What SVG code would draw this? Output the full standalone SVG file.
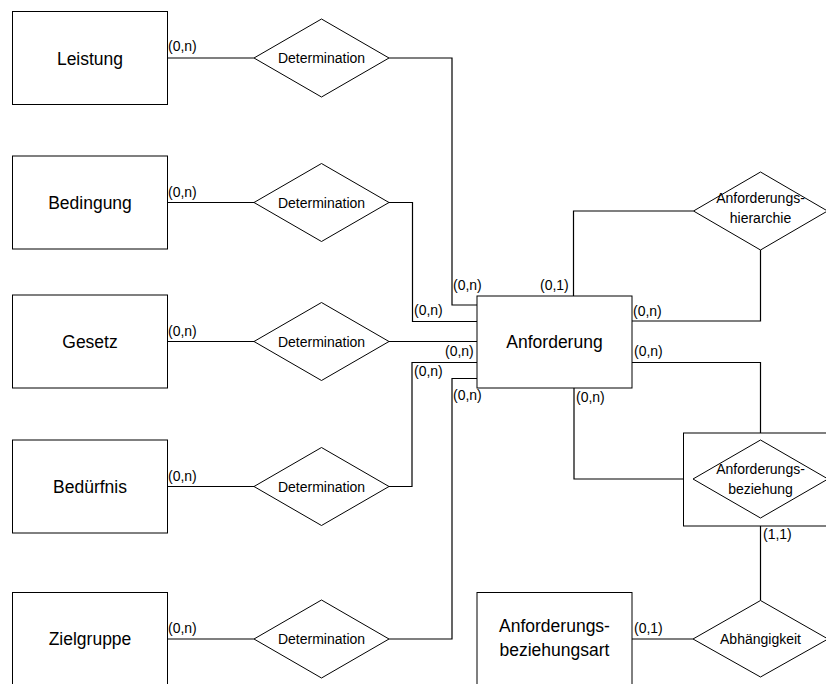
<svg xmlns="http://www.w3.org/2000/svg" width="826" height="684" viewBox="0 0 826 684">
<style>
.box{fill:#fff;stroke:#000;stroke-width:1}
.dia{fill:#fff;stroke:#000;stroke-width:1}
.ln{fill:none;stroke:#000;stroke-width:1.2}
.ent{font-family:"Liberation Sans",Arial,sans-serif;font-size:17.5px;fill:#000;text-anchor:middle}
.rel{font-family:"Liberation Sans",Arial,sans-serif;font-size:14px;fill:#000;text-anchor:middle}
.card{font-family:"Liberation Sans",Arial,sans-serif;font-size:14px;fill:#000}
</style>
<rect width="826" height="684" fill="#fff"/>
<g id="connectors">
<path class="ln" d="M167,58 H254 M389,58 H452 V305 H477"/>
<path class="ln" d="M167,202.5 H254 M389,202.5 H412.5 V321.5 H477"/>
<path class="ln" d="M167,341.5 H254 M389,341.5 H477"/>
<path class="ln" d="M167,486.5 H254 M389,486.5 H412 V362.5 H477"/>
<path class="ln" d="M167,639 H254 M389,639 H452 V378.5 H477"/>
<path class="ln" d="M573.5,296 V211 H693.5 M760.5,249.5 V321 H632"/>
<path class="ln" d="M632,362.5 H760.5 V440 M574,388 V479 H693"/>
<path class="ln" d="M760.5,526 V600.5"/>
<path class="ln" d="M632,639 H693"/>
<text class="card" x="168" y="51">(0,n)</text>
<text class="card" x="168" y="196.5">(0,n)</text>
<text class="card" x="168" y="335.5">(0,n)</text>
<text class="card" x="168" y="480.5">(0,n)</text>
<text class="card" x="168" y="633">(0,n)</text>
<text class="card" x="453" y="289.5">(0,n)</text>
<text class="card" x="414" y="315">(0,n)</text>
<text class="card" x="445" y="356">(0,n)</text>
<text class="card" x="414" y="376">(0,n)</text>
<text class="card" x="453" y="399.5">(0,n)</text>
<text class="card" x="540" y="289.5">(0,1)</text>
<text class="card" x="633" y="316">(0,n)</text>
<text class="card" x="634" y="356">(0,n)</text>
<text class="card" x="576" y="401.5">(0,n)</text>
<text class="card" x="763" y="538.5">(1,1)</text>
<text class="card" x="634" y="633">(0,1)</text>
</g>
<g id="leistung"><rect class="box" x="12.5" y="11.5" width="155" height="93"/><text class="ent" x="90" y="64.5">Leistung</text></g>
<g id="bedingung"><rect class="box" x="12.5" y="156" width="155" height="93"/><text class="ent" x="90" y="209">Bedingung</text></g>
<g id="gesetz"><rect class="box" x="12.5" y="295" width="155" height="93"/><text class="ent" x="90" y="348">Gesetz</text></g>
<g id="beduerfnis"><rect class="box" x="12.5" y="440" width="155" height="93"/><text class="ent" x="90" y="493">Bedürfnis</text></g>
<g id="zielgruppe"><rect class="box" x="12.5" y="592.5" width="155" height="93"/><text class="ent" x="90" y="645">Zielgruppe</text></g>
<g id="det1"><polygon class="dia" points="254,58 321.5,19 389,58 321.5,97"/><text class="rel" x="321.5" y="63">Determination</text></g>
<g id="det2"><polygon class="dia" points="254,202.5 321.5,163.5 389,202.5 321.5,241.5"/><text class="rel" x="321.5" y="207.5">Determination</text></g>
<g id="det3"><polygon class="dia" points="254,341.5 321.5,302.5 389,341.5 321.5,380.5"/><text class="rel" x="321.5" y="346.5">Determination</text></g>
<g id="det4"><polygon class="dia" points="254,486.5 321.5,447.5 389,486.5 321.5,525.5"/><text class="rel" x="321.5" y="491.5">Determination</text></g>
<g id="det5"><polygon class="dia" points="254,639 321.5,600 389,639 321.5,678"/><text class="rel" x="321.5" y="644">Determination</text></g>
<g id="anforderung"><rect class="box" x="477" y="296" width="155" height="92"/><text class="ent" x="554.5" y="348">Anforderung</text></g>
<g id="hierarchie"><polygon class="dia" points="693.5,211 760.5,172 827.5,211 760.5,250"/><text class="rel" x="760.5" y="203">Anforderungs-</text><text class="rel" x="760.5" y="223">hierarchie</text></g>
<g id="beziehung"><rect class="box" x="683.5" y="433" width="150" height="93"/><polygon class="dia" points="693,479 760.5,440 828,479 760.5,518"/><text class="rel" x="760.5" y="474">Anforderungs-</text><text class="rel" x="760.5" y="494">beziehung</text></g>
<g id="abhaengigkeit"><polygon class="dia" points="693,639 760.5,600.5 828,639 760.5,677"/><text class="rel" x="760.5" y="643.5">Abhängigkeit</text></g>
<g id="beziehungsart"><rect class="box" x="477" y="592.5" width="155" height="93"/><text class="ent" x="554.5" y="632">Anforderungs-</text><text class="ent" x="554.5" y="656">beziehungsart</text></g>
</svg>
